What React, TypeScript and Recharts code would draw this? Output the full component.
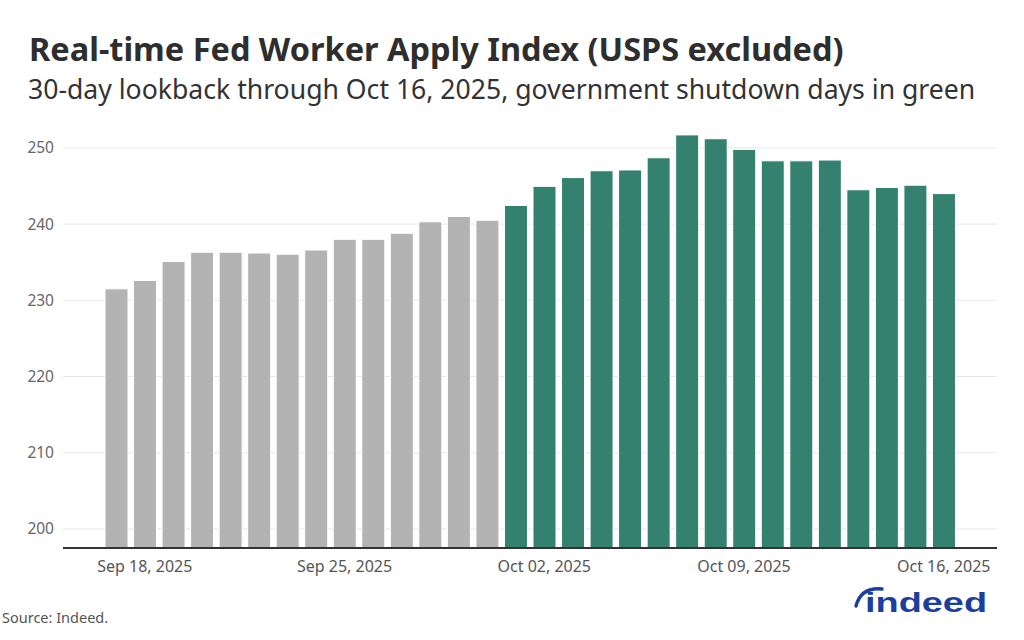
import React from "react";
import { BarChart, Bar, XAxis, YAxis, CartesianGrid, Cell } from "recharts";

const days = [
  "2025-09-17", "2025-09-18", "2025-09-19", "2025-09-20", "2025-09-21",
  "2025-09-22", "2025-09-23", "2025-09-24", "2025-09-25", "2025-09-26",
  "2025-09-27", "2025-09-28", "2025-09-29", "2025-09-30", "2025-10-01",
  "2025-10-02", "2025-10-03", "2025-10-04", "2025-10-05", "2025-10-06",
  "2025-10-07", "2025-10-08", "2025-10-09", "2025-10-10", "2025-10-11",
  "2025-10-12", "2025-10-13", "2025-10-14", "2025-10-15", "2025-10-16",
];

const applyIndex = [
  231.5, 232.6, 235.1, 236.3, 236.3, 236.2, 236.05, 236.6, 238.0, 238.0,
  238.8, 240.3, 241.0, 240.5, 242.45, 244.95, 246.1, 247.0, 247.1, 248.7,
  251.7, 251.2, 249.8, 248.3, 248.3, 248.4, 244.5, 244.8, 245.1, 244.0,
];

const shutdownStart = "2025-10-01";

const tickDays = ["2025-09-18", "2025-09-25", "2025-10-02", "2025-10-09", "2025-10-16"];
const tickLabels = ["Sep 18, 2025", "Sep 25, 2025", "Oct 02, 2025", "Oct 09, 2025", "Oct 16, 2025"];

const yTicks = [200, 210, 220, 230, 240, 250];

const titleText = "Real-time Fed Worker Apply Index (USPS excluded)";
const subtitleText = "30-day lookback through Oct 16, 2025, government shutdown days in green";
const sourceText = "Source: Indeed.";

const GREY = "#b3b3b3";
const GREEN = "#358170";
const FONT = "'Noto Sans', 'Open Sans', sans-serif";

const data = days.map((d, i) => ({ day: d, value: applyIndex[i] }));

export default function App() {
  return (
    <div
      style={{
        position: "absolute",
        left: 0,
        top: 0,
        width: 1024,
        height: 640,
        background: "#ffffff",
        overflow: "hidden",
        fontFamily: FONT,
      }}
    >
      <BarChart
        width={1024}
        height={640}
        data={data}
        margin={{ top: 125, right: 27, bottom: 62, left: 0 }}
      >
        <CartesianGrid vertical={false} syncWithTicks stroke="#e6e6e6" strokeWidth={1} />
        <XAxis
          dataKey="day"
          type="category"
          interval={0}
          height={30}
          padding={{ left: 39, right: 39 }}
          tickLine={false}
          tickSize={6}
          tickMargin={7}
          axisLine={{ stroke: "#333333", strokeWidth: 2 }}
          tick={{ fill: "#555555", fontSize: 16, fontFamily: FONT }}
          tickFormatter={(d: string) => {
            const i = tickDays.indexOf(d);
            return i >= 0 ? tickLabels[i] : "";
          }}
        />
        <YAxis
          type="number"
          width={63}
          domain={[197.5, 253]}
          ticks={yTicks}
          allowDataOverflow
          axisLine={false}
          tickLine={false}
          tickSize={6}
          tickMargin={3}
          tick={{ fill: "#666666", fontSize: 15.5, fontFamily: FONT }}
        />
        <Bar dataKey="value" barSize={23} stroke="#ffffff" strokeWidth={1} isAnimationActive={false}>
          {data.map((d) => (
            <Cell key={d.day} fill={d.day >= shutdownStart ? GREEN : GREY} />
          ))}
        </Bar>
      </BarChart>
      <svg
        width={1024}
        height={640}
        style={{ position: "absolute", left: 0, top: 0, pointerEvents: "none" }}
      >
        <text x={29} y={61} fontFamily={FONT} fontWeight={700} fontSize={32.5} fill="#2e2e2e">
          {titleText}
        </text>
        <text x={28} y={99} fontFamily={FONT} fontSize={26.6} fill="#333333">
          {subtitleText}
        </text>
        <text x={2} y={622.5} fontFamily={FONT} fontSize={14.5} fill="#555555">
          {sourceText}
        </text>
        <path
          d="M 856 606 Q 861 587 882 589"
          fill="none"
          stroke="#1c3f9e"
          strokeWidth={3.4}
          strokeLinecap="round"
        />
        <text
          x={865}
          y={612}
          fontFamily="'Liberation Sans', Arial, sans-serif"
          fontWeight={700}
          fontSize={28}
          fill="#1c3f9e"
          textLength={122}
          lengthAdjust="spacingAndGlyphs"
        >
          indeed
        </text>
      </svg>
    </div>
  );
}
